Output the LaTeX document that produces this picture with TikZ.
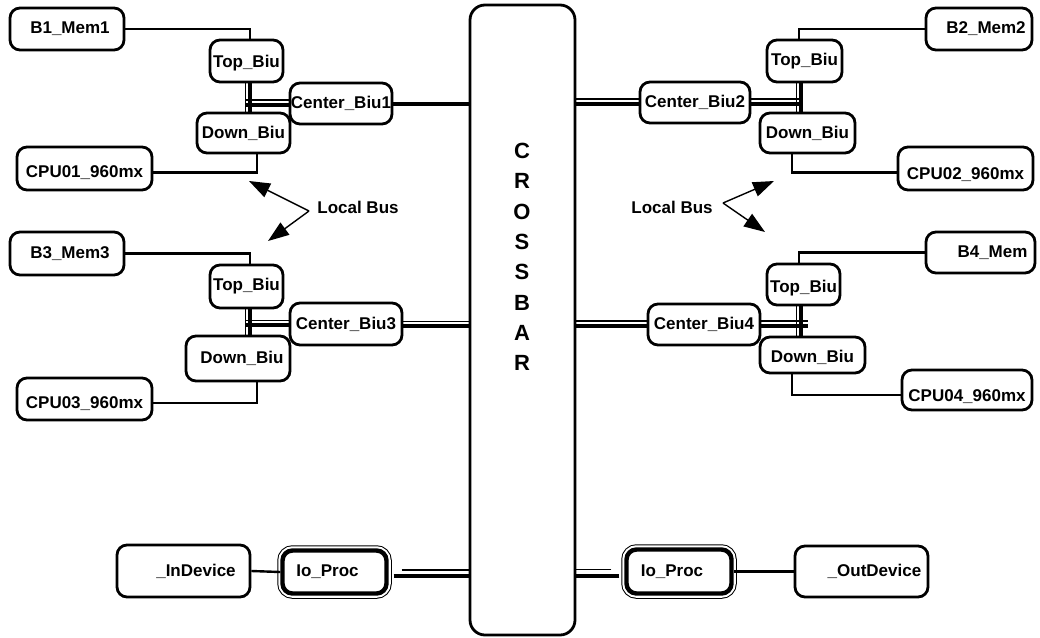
\documentclass[tikz,border=0pt]{standalone}
\usepackage{fontspec}
\setmainfont{Liberation Sans}
\usetikzlibrary{arrows.meta}
\newcommand{\rsh}[1]{\hspace*{#1}}
\newcommand{\lowered}[2]{\raisebox{-#1}[\height][\depth]{#2}}
\tikzset{
  box/.style={draw, rounded corners=10pt, line width=2.8pt, fill=white, inner sep=0pt,
    font=\fontsize{17}{20}\selectfont\bfseries},
  iobox/.style={box, line width=4.4pt,
    preaction={draw, line width=10.5pt},
    preaction={draw, white, line width=8.5pt}},
  conn/.style={line width=2.4pt},
  heavy/.style={line width=4pt},
  fine/.style={line width=1.1pt},
  pointer/.style={line width=1.4pt, -{Triangle[length=21pt,width=15pt]}},
  tag/.style={font=\fontsize{17}{20}\selectfont\bfseries}
}
\begin{document}
\begin{tikzpicture}[x=1pt,y=-1pt]
\useasboundingbox (0,0) rectangle (1040,637);

% crossbar
\node[box, rounded corners=15pt, minimum width=105pt, minimum height=630pt] (xbar) at (522.5,320) {};
\node[font=\fontsize{22}{30.3}\selectfont\bfseries, align=center] (xbartext) at (522,257)
  {C\\R\\O\\S\\S\\B\\A\\R};

% left upper group
\node[box, minimum width=114pt, minimum height=42pt] (b1) at (67,29) {\rsh{6pt}B1\_Mem1};
\node[box, minimum width=73pt, minimum height=42pt] (top1) at (246.5,61) {\lowered{2pt}{Top\_Biu}};
\node[box, minimum width=102pt, minimum height=41pt] (c1) at (341,103.5) {Center\_Biu1};
\node[box, minimum width=93pt, minimum height=40pt] (dn1) at (243.5,133) {Down\_Biu};
\node[box, minimum width=135pt, minimum height=43pt] (cpu1) at (84.5,168.5) {\lowered{4pt}{CPU01\_960mx}};

% left lower group
\node[box, minimum width=114pt, minimum height=43pt] (b3) at (67,253.5) {\rsh{6pt}B3\_Mem3};
\node[box, minimum width=73pt, minimum height=43pt] (top3) at (246.5,286.5) {Top\_Biu};
\node[box, minimum width=112pt, minimum height=42pt] (c3) at (346,324) {Center\_Biu3};
\node[box, minimum width=104pt, minimum height=45pt] (dn3) at (238,358.5) {\rsh{8pt}Down\_Biu};
\node[box, minimum width=135pt, minimum height=42pt] (cpu3) at (84.5,399) {\lowered{5pt}{CPU03\_960mx}};

% right upper group
\node[box, minimum width=106pt, minimum height=42pt] (b2) at (979,29) {\rsh{14pt}B2\_Mem2};
\node[box, minimum width=75pt, minimum height=42pt] (top2) at (804.5,61) {Top\_Biu};
\node[box, minimum width=110pt, minimum height=41pt] (c2) at (695,102.5) {Center\_Biu2};
\node[box, minimum width=95pt, minimum height=40pt] (dn2) at (807.5,133) {Down\_Biu};
\node[box, minimum width=135pt, minimum height=43pt] (cpu2) at (965.5,168.5) {\lowered{6pt}{CPU02\_960mx}};

% right lower group
\node[box, minimum width=109pt, minimum height=41pt] (b4) at (980.5,252.5) {\rsh{24pt}B4\_Mem};
\node[box, minimum width=73pt, minimum height=41pt] (top4) at (803.5,284.5) {\lowered{4pt}{Top\_Biu}};
\node[box, minimum width=112pt, minimum height=41pt] (c4) at (704,324.5) {Center\_Biu4};
\node[box, minimum width=105pt, minimum height=36pt] (dn4) at (812.5,355) {\lowered{2pt}{Down\_Biu}};
\node[box, minimum width=130pt, minimum height=40pt] (cpu4) at (967,390) {\lowered{7pt}{CPU04\_960mx}};

% input / output
\node[box, minimum width=133pt, minimum height=52pt] (indev) at (183.5,571) {\rsh{25pt}\_InDevice};
\node[iobox, minimum width=104pt, minimum height=43pt] (io1) at (334.5,572) {Io\_Proc\rsh{14pt}};
\node[iobox, minimum width=105pt, minimum height=44pt] (io2) at (679,571.5) {Io\_Proc\rsh{14pt}};
\node[box, minimum width=133pt, minimum height=51pt] (outdev) at (861.5,571.5) {\rsh{26pt}\_OutDevice};

% ---- left upper wiring
\draw[conn] (b1.east) -| ([xshift=3.5pt]top1.north);
\coordinate (v1a) at ([xshift=3.5pt]top1.south);
\coordinate (v1b) at (v1a |- dn1.north);
\draw[heavy] (v1a) -- (v1b);
\draw[fine] ([xshift=-4.5pt]v1a) -- ([xshift=-4.5pt]v1b);
\coordinate (h1a) at ([yshift=-1pt]c1.west);
\coordinate (h1b) at ([xshift=-4pt]h1a -| v1a);
\draw[heavy] (h1a) -- (h1b);
\draw[fine] ([yshift=4.5pt]h1a) -- ([yshift=4.5pt]h1b);
\draw[heavy] (c1.east) -- (c1.east -| xbar.west);
\draw[conn] ([xshift=13.5pt]dn1.south) |- ([yshift=-4pt]cpu1.east);

% ---- left lower wiring
\draw[conn] (b3.east) -| ([xshift=3.5pt]top3.north);
\coordinate (v3a) at ([xshift=3.5pt]top3.south);
\coordinate (v3b) at (v3a |- dn3.north);
\draw[heavy] (v3a) -- (v3b);
\draw[fine] ([xshift=-4.5pt]v3a) -- ([xshift=-4.5pt]v3b);
\coordinate (h3a) at ([yshift=-1pt]c3.west);
\coordinate (h3b) at ([xshift=-4pt]h3a -| v3a);
\draw[heavy] (h3a) -- (h3b);
\draw[fine] ([yshift=4.5pt]h3a) -- ([yshift=4.5pt]h3b);
\coordinate (x3a) at ([yshift=-2pt]c3.east);
\coordinate (x3b) at (x3a -| xbar.west);
\draw[heavy] (x3a) -- (x3b);
\draw[fine] ([yshift=4.5pt]x3a) -- ([yshift=4.5pt]x3b);
\draw[conn] ([xshift=19pt]dn3.south) |- ([yshift=-4pt]cpu3.east);

% ---- right upper wiring
\draw[conn] (b2.west) -| ([xshift=-5.5pt]top2.north);
\coordinate (v2a) at ([xshift=-3.5pt]top2.south);
\coordinate (v2b) at (v2a |- dn2.north);
\draw[heavy] (v2a) -- (v2b);
\draw[fine] ([xshift=-4.5pt]v2a) -- ([xshift=-4.5pt]v2b);
\coordinate (h2a) at ([yshift=-1pt]c2.east);
\coordinate (h2b) at (h2a -| v2a);
\draw[heavy] (h2a) -- (h2b);
\draw[fine] ([yshift=4.5pt]h2a) -- ([yshift=4.5pt]h2b);
\coordinate (x2a) at ([yshift=-1pt]c2.west);
\coordinate (x2b) at (x2a -| xbar.east);
\draw[heavy] (x2a) -- (x2b);
\draw[fine] ([yshift=4.5pt]x2a) -- ([yshift=4.5pt]x2b);
\draw[conn] ([xshift=-15.5pt]dn2.south) |- ([yshift=-4pt]cpu2.west);

% ---- right lower wiring
\draw[conn] (b4.west) -| ([xshift=-4.5pt]top4.north);
\coordinate (v4a) at ([xshift=-2.5pt]top4.south);
\coordinate (v4b) at (v4a |- dn4.north);
\draw[heavy] (v4a) -- (v4b);
\draw[fine] ([xshift=-4.5pt]v4a) -- ([xshift=-4.5pt]v4b);
\coordinate (h4a) at ([yshift=-1pt]c4.east);
\coordinate (h4b) at ([xshift=7pt]h4a -| v4a);
\draw[heavy] (h4a) -- (h4b);
\draw[fine] ([yshift=4.5pt]h4a) -- ([yshift=4.5pt]h4b);
\coordinate (x4a) at ([yshift=-1pt]c4.west);
\coordinate (x4b) at (x4a -| xbar.east);
\draw[heavy] (x4a) -- (x4b);
\draw[fine] ([yshift=4.5pt]x4a) -- ([yshift=4.5pt]x4b);
\draw[conn] ([xshift=-20.5pt]dn4.south) |- ([yshift=-5pt]cpu4.west);

% ---- input / output wiring
\draw[conn] (indev.east) -- (io1.west);
\coordinate (x5a) at ([xshift=5pt,yshift=-4pt]io1.east);
\coordinate (x5b) at (x5a -| xbar.west);
\draw[heavy] (x5a) -- (x5b);
\draw[fine] ([xshift=8pt,yshift=6pt]x5a) -- ([yshift=6pt]x5b);
\coordinate (x6a) at ([xshift=-5pt,yshift=-4pt]io2.west);
\coordinate (x6b) at (x6a -| xbar.east);
\draw[heavy] (x6a) -- (x6b);
\draw[fine] ([xshift=-8pt,yshift=6pt]x6a) -- ([yshift=6pt]x6b);
\draw[conn] (io2.east) -- (outdev.west);

% ---- local bus callouts
\node[tag] (lbl) at (358,207) {Local Bus};
\coordinate (lsrc) at (309,211);
\coordinate (ltip1) at (249,181);
\coordinate (ltip2) at (268,241);
\draw[pointer] (lsrc) -- (ltip1);
\draw[pointer] (lsrc) -- (ltip2);

\node[tag] (lbr) at (672,207) {Local Bus};
\coordinate (rsrc) at (723,203);
\coordinate (rtip1) at (774,181);
\coordinate (rtip2) at (765,232);
\draw[pointer] (rsrc) -- (rtip1);
\draw[pointer] (rsrc) -- (rtip2);
\end{tikzpicture}
\end{document}
